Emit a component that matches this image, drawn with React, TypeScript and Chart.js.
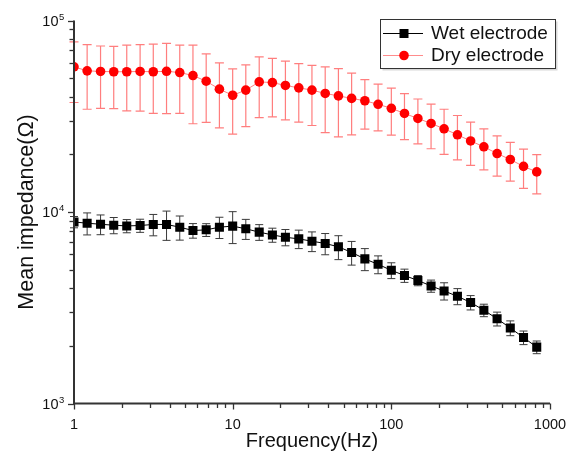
import React, { useEffect, useRef } from 'react';
import { Chart, registerables } from 'chart.js';

Chart.register(...registerables);

const freqs = [1, 1.21, 1.47, 1.78, 2.15, 2.61, 3.16, 3.83, 4.64, 5.62, 6.81, 8.25, 10, 12.1, 14.7, 17.8, 21.5, 26.1, 31.6, 38.3, 46.4, 56.2, 68.1, 82.5, 100, 121, 147, 178, 215, 261, 316, 383, 464, 562, 681, 825];

const wetMean = [8870, 8740, 8630, 8530, 8460, 8500, 8610, 8610, 8330, 8000, 8070, 8330, 8440, 8170, 7850, 7590, 7380, 7240, 7040, 6850, 6580, 6150, 5690, 5330, 4960, 4660, 4390, 4110, 3870, 3630, 3370, 3070, 2770, 2480, 2210, 1970];
const wetErr = [600, 1150, 1020, 830, 670, 670, 1100, 1500, 1200, 700, 620, 1060, 1600, 980, 740, 640, 720, 800, 830, 870, 940, 870, 750, 570, 470, 370, 270, 300, 400, 350, 290, 230, 230, 220, 180, 150];

const dryMean = [57300, 54600, 54200, 54000, 54000, 54200, 54000, 54300, 53500, 51600, 48200, 43800, 40700, 43300, 47800, 47400, 45800, 44500, 43300, 41600, 40400, 39200, 38100, 36500, 34800, 32700, 30800, 29000, 27200, 25300, 23500, 21900, 20200, 18800, 17300, 16200];
const dryErr = [20000, 20200, 19400, 19300, 20300, 20600, 21300, 21700, 20800, 22700, 18800, 16300, 15200, 15400, 16700, 16000, 15500, 15000, 15000, 15600, 15700, 13900, 11000, 10000, 9600, 8800, 8100, 7600, 7200, 6600, 6000, 5300, 4800, 4300, 4000, 3750];

const xTickLabels = [1, 10, 100, 1000];
const yTickExps = [3, 4, 5];
const xDecades = [0, 1, 2];
const yDecades = [3, 4];
const seriesNames = ['Wet electrode', 'Dry electrode'];
const xTitle = 'Frequency(Hz)';
const yTitle = 'Mean impedance(Ω)';

const FONT = '"Liberation Sans", Arial, sans-serif';

const errorSets = [
  { err: wetErr, mean: wetMean, color: '#3a3a3a', cap: 4, width: 1 },
  { err: dryErr, mean: dryMean, color: 'rgba(255,40,40,0.6)', cap: 4.5, width: 1.2 },
];

const errorBarPlugin = {
  id: 'errorBars',
  beforeDatasetsDraw(chart: any) {
    const ctx = chart.ctx;
    const xs = chart.scales.x;
    const ys = chart.scales.y;
    ctx.save();
    errorSets.forEach((s) => {
      ctx.strokeStyle = s.color;
      ctx.lineWidth = s.width;
      freqs.forEach((f, i) => {
        const x = xs.getPixelForValue(f);
        const yt = ys.getPixelForValue(s.mean[i] + s.err[i]);
        const yb = ys.getPixelForValue(s.mean[i] - s.err[i]);
        ctx.beginPath();
        ctx.moveTo(x, yt);
        ctx.lineTo(x, yb);
        ctx.moveTo(x - s.cap, yt);
        ctx.lineTo(x + s.cap, yt);
        ctx.moveTo(x - s.cap, yb);
        ctx.lineTo(x + s.cap, yb);
        ctx.stroke();
      });
    });
    ctx.restore();
  },
};

const decorPlugin = {
  id: 'decor',
  afterDraw(chart: any) {
    const ctx = chart.ctx;
    const xs = chart.scales.x;
    const ys = chart.scales.y;
    const area = chart.chartArea;
    ctx.save();

    // axis lines
    ctx.strokeStyle = '#333';
    ctx.lineWidth = 2;
    ctx.beginPath();
    ctx.moveTo(area.left, area.top);
    ctx.lineTo(area.left, area.bottom);
    ctx.lineTo(area.right, area.bottom);
    ctx.stroke();

    // tick marks (log: 1..9 per decade)
    ctx.lineWidth = 1.3;
    const xTickVals: number[] = [];
    xDecades.forEach((d) => { for (let k = 1; k <= 9; k++) xTickVals.push(k * Math.pow(10, d)); });
    xTickVals.push(1000);
    xTickVals.forEach((v) => {
      const x = Math.round(xs.getPixelForValue(v)) + 0.5;
      const major = Math.abs(Math.log10(v) - Math.round(Math.log10(v))) < 1e-9;
      ctx.beginPath();
      ctx.moveTo(x, area.bottom);
      ctx.lineTo(x, area.bottom + (major ? 6 : 4.5));
      ctx.stroke();
    });
    const yTickVals: number[] = [];
    yDecades.forEach((d) => { for (let k = 1; k <= 9; k++) yTickVals.push(k * Math.pow(10, d)); });
    yTickVals.push(100000);
    yTickVals.forEach((v) => {
      const y = Math.round(ys.getPixelForValue(v)) + 0.5;
      const major = Math.abs(Math.log10(v) - Math.round(Math.log10(v))) < 1e-9;
      ctx.beginPath();
      ctx.moveTo(area.left, y);
      ctx.lineTo(area.left - (major ? 6 : 4.5), y);
      ctx.stroke();
    });

    ctx.fillStyle = '#111';
    // x tick labels
    ctx.font = `14.5px ${FONT}`;
    ctx.textAlign = 'center';
    ctx.textBaseline = 'alphabetic';
    xTickLabels.forEach((v) => {
      ctx.fillText(String(v), xs.getPixelForValue(v), 429);
    });
    // y tick labels 10^n
    yTickExps.forEach((e) => {
      const y = ys.getPixelForValue(Math.pow(10, e));
      ctx.font = `14.5px ${FONT}`;
      ctx.textAlign = 'right';
      ctx.textBaseline = 'middle';
      ctx.fillText('10', 58.5, y + 1);
      ctx.font = `9.5px ${FONT}`;
      ctx.textAlign = 'left';
      ctx.textBaseline = 'alphabetic';
      ctx.fillText(String(e), 59, y - 1);
    });
    // axis titles
    ctx.font = `20px ${FONT}`;
    ctx.textAlign = 'center';
    ctx.textBaseline = 'alphabetic';
    ctx.fillText(xTitle, (area.left + area.right) / 2, 447);
    ctx.save();
    ctx.font = `21.5px ${FONT}`;
    ctx.translate(33, (area.top + area.bottom) / 2);
    ctx.rotate(-Math.PI / 2);
    ctx.fillText(yTitle, 0, 0);
    ctx.restore();

    // legend
    const bx = 380.5, by = 19.5, bw = 175, bh = 49;
    ctx.fillStyle = '#d8d8d8';
    ctx.fillRect(bx + 2, by + 2, bw, bh);
    ctx.fillStyle = '#fff';
    ctx.fillRect(bx, by, bw, bh);
    ctx.strokeStyle = '#333';
    ctx.lineWidth = 1;
    ctx.strokeRect(bx, by, bw, bh);
    const rows = [
      { y: 33, line: '#000', draw: (x: number, y: number) => { ctx.fillStyle = '#000'; ctx.fillRect(x - 4.5, y - 4.5, 9, 9); } },
      { y: 55, line: '#ff8c8c', draw: (x: number, y: number) => { ctx.fillStyle = '#ff0000'; ctx.beginPath(); ctx.arc(x, y, 4.8, 0, Math.PI * 2); ctx.fill(); } },
    ];
    rows.forEach((r, i) => {
      ctx.strokeStyle = r.line;
      ctx.lineWidth = 1;
      ctx.beginPath();
      ctx.moveTo(383, r.y + 0.5);
      ctx.lineTo(423, r.y + 0.5);
      ctx.stroke();
      r.draw(404, r.y + 0.5);
      ctx.fillStyle = '#111';
      ctx.font = `19px ${FONT}`;
      ctx.textAlign = 'left';
      ctx.textBaseline = 'middle';
      ctx.fillText(seriesNames[i], 431, r.y + 1);
    });
    ctx.restore();
  },
};

export default function App() {
  const ref = useRef<HTMLCanvasElement | null>(null);
  useEffect(() => {
    if (!ref.current) return;
    const chart = new Chart(ref.current, {
      type: 'line',
      data: {
        datasets: [
          {
            label: seriesNames[0],
            data: freqs.map((f, i) => ({ x: f, y: wetMean[i] })),
            borderColor: '#000',
            borderWidth: 1,
            pointStyle: 'rect',
            pointRadius: 6.4,
            pointBackgroundColor: '#000',
            pointBorderWidth: 0,
            tension: 0,
          },
          {
            label: seriesNames[1],
            data: freqs.map((f, i) => ({ x: f, y: dryMean[i] })),
            borderColor: '#ff8080',
            borderWidth: 1,
            pointStyle: 'circle',
            pointRadius: 4.8,
            pointBackgroundColor: '#ff0000',
            pointBorderWidth: 0,
            tension: 0,
          },
        ],
      },
      options: {
        responsive: false,
        animation: false,
        devicePixelRatio: 1,
        layout: { padding: { left: 0, right: 18, top: 20.5, bottom: 0 } },
        plugins: { legend: { display: false }, tooltip: { enabled: false } },
        scales: {
          x: {
            type: 'logarithmic',
            min: 1,
            max: 1000,
            afterFit: (s: any) => { s.height = 54.5; },
            grid: { display: false },
            border: { display: false },
            ticks: { display: false },
          },
          y: {
            type: 'logarithmic',
            min: 1000,
            max: 100000,
            afterFit: (s: any) => { s.width = 74; },
            grid: { display: false },
            border: { display: false },
            ticks: { display: false },
          },
        },
      },
      plugins: [errorBarPlugin, decorPlugin],
    } as any);
    return () => chart.destroy();
  }, []);
  return (
    <div style={{ position: 'absolute', left: 0, top: 0, width: 568, height: 458, background: '#fff' }}>
      <canvas ref={ref} width={568} height={458} style={{ width: 568, height: 458, display: 'block' }} />
    </div>
  );
}
